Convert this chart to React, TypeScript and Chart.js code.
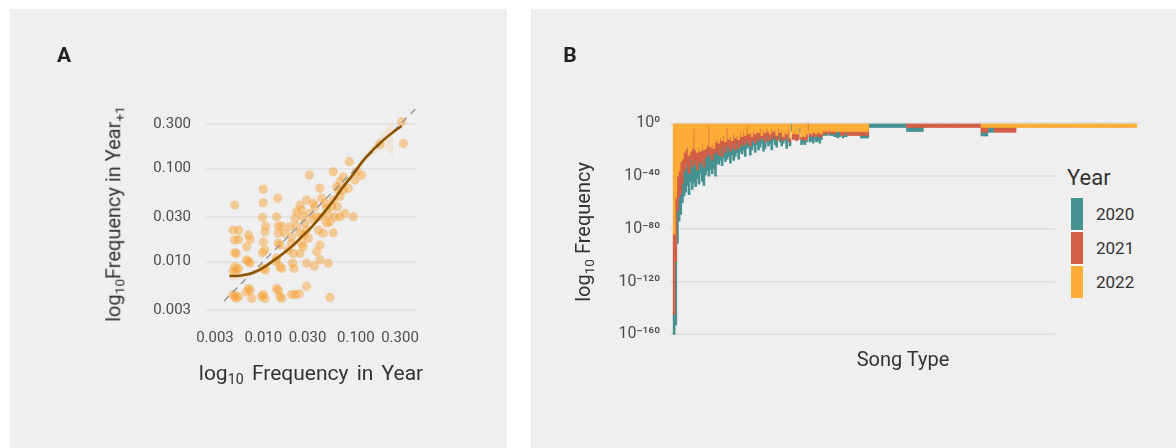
import React, { useEffect, useRef } from 'react';
import { Chart, registerables } from 'chart.js';

Chart.register(...registerables);
Chart.defaults.font.family = 'Roboto, "DejaVu Sans", sans-serif';

// ---------------- Panel A data ----------------
const freqInYear = [
  0.0049, 0.0047, 0.0054, 0.0049, 0.0054, 0.0049, 0.0051, 0.0049, 0.0051, 0.0047, 0.0054, 0.0049, 0.0051, 0.0054, 0.0047,
  0.0069, 0.0072, 0.0066, 0.0066, 0.0069, 0.0072, 0.0069, 0.0072, 0.0066, 0.0075,
  0.0100, 0.0100, 0.0098, 0.0106, 0.0104, 0.0100, 0.0098, 0.0104, 0.0100, 0.0106, 0.0100, 0.0104, 0.0096,
  0.0143, 0.0139, 0.0145, 0.0158, 0.0145, 0.0151, 0.0139, 0.0137, 0.0151, 0.0158, 0.0139, 0.0145, 0.0151, 0.0158,
  0.0194, 0.0202, 0.0202, 0.0211, 0.0207, 0.0214, 0.0220, 0.0229, 0.0202, 0.0220, 0.0245, 0.0294,
  0.0249, 0.0259, 0.0270, 0.0282, 0.0294, 0.0275, 0.0259, 0.0249, 0.0294,
  0.0314, 0.0294, 0.0347, 0.0361, 0.0319, 0.0377, 0.0393, 0.0409, 0.0377, 0.0356,
  0.0409, 0.0427, 0.0463, 0.0483, 0.0504, 0.0525, 0.0409, 0.0504, 0.0445, 0.0483, 0.0570, 0.0525,
  0.0570, 0.0619, 0.0646, 0.0673, 0.0731, 0.0570, 0.0630, 0.0673, 0.0594, 0.0762, 0.0938,
  0.0849, 0.0977, 0.116, 0.0828, 0.182, 0.313, 0.326,
  0.0145, 0.0171, 0.0229, 0.0249, 0.0186, 0.0270, 0.0306, 0.0347, 0.0427, 0.0547, 0.0673, 0.0731, 0.102,
];
const freqInNextYear = [
  0.0406, 0.0218, 0.0218, 0.0170, 0.0173, 0.0124, 0.0122, 0.0088, 0.0081, 0.0078, 0.0084, 0.0042, 0.0040, 0.0042, 0.0044,
  0.0193, 0.0173, 0.0144, 0.0104, 0.0100, 0.0096, 0.0051, 0.0049, 0.0047, 0.0040,
  0.0603, 0.0430, 0.0298, 0.0241, 0.0209, 0.0163, 0.0124, 0.0133, 0.0084, 0.0081, 0.0044, 0.0040, 0.0042,
  0.0479, 0.0303, 0.0241, 0.0241, 0.0157, 0.0150, 0.0108, 0.0100, 0.0088, 0.0084, 0.0051, 0.0049, 0.0042, 0.0040,
  0.0237, 0.0185, 0.0157, 0.0122, 0.0096, 0.0084, 0.0291, 0.0344, 0.0044, 0.0044, 0.0045, 0.0054,
  0.0406, 0.0358, 0.0303, 0.0258, 0.0218, 0.0193, 0.0157, 0.0122, 0.0096,
  0.0853, 0.0459, 0.0423, 0.0389, 0.0330, 0.0303, 0.0218, 0.0150, 0.0127, 0.0089,
  0.0614, 0.0479, 0.0423, 0.0373, 0.0316, 0.0268, 0.0104, 0.0096, 0.0201, 0.0258, 0.0204, 0.0041,
  0.0927, 0.0638, 0.0589, 0.0723, 0.0818, 0.0459, 0.0389, 0.0303, 0.0303, 0.0330, 0.0303,
  0.119, 0.0754, 0.0853, 0.0614, 0.183, 0.321, 0.187,
  0.0201, 0.0201, 0.0237, 0.0201, 0.0133, 0.0144, 0.0177, 0.0282, 0.0303, 0.0389, 0.0500, 0.0589, 0.0927,
];
const loessX = [0.0043, 0.0051, 0.0060, 0.0078, 0.0100, 0.0128, 0.0164, 0.0211, 0.0270, 0.0347, 0.0445, 0.0570, 0.0731, 0.0938, 0.120, 0.154, 0.198, 0.254, 0.313];
const loessY = [0.00697, 0.00697, 0.0071, 0.00757, 0.00857, 0.0102, 0.0122, 0.0150, 0.0191, 0.0247, 0.0330, 0.0452, 0.0638, 0.0870, 0.122, 0.160, 0.203, 0.248, 0.288];
const bandX = [0.0043, 0.0060, 0.0100, 0.0164, 0.0270, 0.0445, 0.0731, 0.120, 0.154, 0.198, 0.254];
const bandUpper = [0.00769, 0.00757, 0.00907, 0.01285, 0.0201, 0.0347, 0.0677, 0.1346, 0.1810, 0.245, 0.330];
const bandLower = [0.00621, 0.00653, 0.00801, 0.01154, 0.0182, 0.0314, 0.0603, 0.110, 0.141, 0.168, 0.1346];
const identityEnds = [0.00376, 0.45];
const freqTicks = [0.003, 0.01, 0.03, 0.1, 0.3];
const freqTickLabels = ['0.003', '0.010', '0.030', '0.100', '0.300'];

// ---------------- Panel B data (log10 frequency, stacked per song type) ----------------
const years = ['2020', '2021', '2022'];
const log10Freq2022 = [
  -84, -56, -40, -36, -29, -27, -22, -20, -18, -24,
  -21, -19, -4, -20, -22, -18, -21, -15, -20, -19,
  -17, -2, -18, -16, -19, -14, -12, -15, -11, -13,
  -9, -14, -3, -12, -10, -13, -8, -11, -9, -12,
  -7, -10, -6, -9, -2, -8, -7, -10, -5, -8,
  -6, -7, -4, -9, -5, -7, -3, -6, -8, -4,
  -6, -5, -9, -3, -7, -5, -10, -6, -8, -4,
  -11, 0, -8, -7, -8, -8, -3, -10, -9, -10,
  -8, 0, -7, -8, -6, -7, -8, -6, -7, -8,
  -5, -6, -5, -6, -4, -6, -5, -6, -6, -6,
  -6, -6, -6, -6, -6, -6, -6, -6, -6, -6,
  -6, -6, -6, -6, -6, -6, -6, -6,
  0, 0, 0, 0, 0, 0, 0, 0, 0, 0,
  0, 0, 0, 0, 0, 0, 0, 0, 0, 0,
  0, 0, 0, 0, 0, 0, 0, 0, 0, 0,
  0, 0, 0, 0, 0, 0, 0, 0, 0, 0,
  0, 0, 0, 0, 0, 0, 0, 0, 0, 0,
  0, 0, 0, 0, 0, 0, 0, 0, 0, 0,
  0, 0, 0, 0, 0, 0, 0, 0, -3, -3,
  -3, -3, -3, -3, -3, -3, -3, -3, -3, -3,
  -3, -3, -3, -3, -3, -3, -3, -3, -3, -3,
  -3, -3, -3, -3, -3, -3, -3, -3, -3, -3,
  -3, -3, -3, -3, -3, -3, -3, -3, -3, -3,
  -3, -3, -3, -3, -3, -3, -3, -3, -3, -3,
  -3, -3, -3, -3, -3, -3, -3, -3, -3, -3,
  -3, -3, -3, -3, -3, -3, -3, -3, -3, -3,
  -3, -3, -3, -3, -3, -3, -3, -3, -3, -3,
  -3, -3, -3, -3, -3, -3, -3, -3, -3, -3,
  -3, -3,
];
const log10Freq2021 = [
  -61, -48, -26, -20, -24, -18, -14, -14, -12, -14,
  -6, -14, -24, -11, -13, -11, -9, -12, -13, -7,
  -7, -20, -7, -12, -4, -8, -8, -9, -8, -12,
  -8, -8, -13, -6, -11, -6, -8, -9, -5, -7,
  -8, -7, -7, -7, -10, -6, -10, -3, -7, -7,
  -5, -6, -6, -3, -6, -7, -6, -7, -2, -8,
  -3, -6, -4, -5, -5, -5, -3, -5, -4, -5,
  -3, 0, -4, -5, -5, -4, 0, -2, -3, -3,
  -4, -6, -3, -1, -4, -3, -1, -4, -3, -2,
  -3, -2, -2, -2, -4, 0, -3, -2, 0, 0,
  0, -3, -3, -2, 0, -3, -3, -3, -3, -3,
  -3, -3, -3, -3, -3, -3, -3, -3,
  0, 0, 0, 0, 0, 0, 0, 0, 0, 0,
  0, 0, 0, 0, 0, 0, 0, 0, 0, 0,
  0, 0, 0, -3, -3, -3, -3, -3, -3, -3,
  -3, -3, -3, -3, -3, -3, -3, -3, -3, -3,
  -3, -3, -3, -3, -3, -3, -3, -3, -3, -3,
  -3, -3, -3, -3, -3, -3, -3, -3, -3, -3,
  -3, -3, -3, -3, -3, -3, -3, -3, -3.5, -3.5,
  -3.5, -3.5, 0, 0, 0, 0, -3.5, -3.5, -3.5, -3.5,
  -3.5, -3.5, -3.5, -3.5, -3.5, -3.5, -3.5, -3.5, -3.5, 0,
  0, 0, 0, 0, 0, 0, 0, 0, 0, 0,
  0, 0, 0, 0, 0, 0, 0, 0, 0, 0,
  0, 0, 0, 0, 0, 0, 0, 0, 0, 0,
  0, 0, 0, 0, 0, 0, 0, 0, 0, 0,
  0, 0, 0, 0, 0, 0, 0, 0, 0, 0,
  0, 0, 0, 0, 0, 0, 0, 0, 0, 0,
  0, 0, 0, 0, 0, 0, 0, 0, 0, 0,
  0, 0,
];
const log10Freq2020 = [
  -15, -49, -25, -18, -16, -15, -19, -18, -17, -16,
  -17, -17, -17, -17, -7, -17, -8, -17, -14, -13,
  -12, -18, -10, -10, -11, -18, -10, -7, -9, -7,
  -9, -7, -11, -7, -9, -5, -12, -5, -8, -8,
  -6, -6, -7, -9, -7, -4, -7, -7, -5, -7,
  -5, -7, -8, -3, -10, -5, -5, -4, -5, -8,
  -4, -5, -5, -4, -2, -7, -2, -2, -7, -5,
  -3, -6, 0, 0, 0, 0, -4, -4, -3, -3,
  -2, 0, -4, -4, -5, -2, -5, -3, -5, -2,
  -1, -1, -2, 0, -1, -3, -1, -2, -4, -5,
  -4, 0, -2, -2, -4, 0, 0, 0, 0, 0,
  0, 0, 0, -2, -2, -2, -2, -2,
  -3, -3, -3, -3, -3, -3, -3, -3, -3, -3,
  -3, -3, -3, -3, -3, -3, -3, -3, -3, -3,
  -3, -3, -3, -3, -3, -3, -3, -3, -3, -3,
  -3, -3, -3, 0, 0, 0, 0, 0, 0, 0,
  0, 0, 0, 0, 0, 0, 0, 0, 0, 0,
  0, 0, 0, 0, 0, 0, 0, 0, 0, 0,
  0, 0, 0, 0, 0, 0, 0, 0, -3, -3,
  -3, -3, -3.5, -3.5, -3.5, -3.5, 0, 0, 0, 0,
  0, 0, 0, 0, 0, 0, 0, 0, 0, 0,
  0, 0, 0, 0, 0, 0, 0, 0, 0, 0,
  0, 0, 0, 0, 0, 0, 0, 0, 0, 0,
  0, 0, 0, 0, 0, 0, 0, 0, 0, 0,
  0, 0, 0, 0, 0, 0, 0, 0, 0, 0,
  0, 0, 0, 0, 0, 0, 0, 0, 0, 0,
  0, 0, 0, 0, 0, 0, 0, 0, 0, 0,
  0, 0, 0, 0, 0, 0, 0, 0, 0, 0,
  0, 0,
];
const songTypes = log10Freq2020.map((_, i) => 'Song type ' + (i + 1));
const log10Ticks = [-160, -120, -80, -40, 0];
const log10TickLabels = ['10⁻¹⁶⁰', '10⁻¹²⁰', '10⁻⁸⁰', '10⁻⁴⁰', '10⁰'];
const yearColors = ['#459291', '#d25f46', '#fbad37'];

const PANEL_BG = '#efefef';
const GRID = '#e2e2e2';
const TEXT = '#333333';
const TICK = '#4d4d4d';

const sub = (t: string) => (
  <span style={{ fontSize: '0.68em', verticalAlign: '-0.28em' }}>{t}</span>
);

export default function App() {
  const refA = useRef<HTMLCanvasElement>(null);
  const refB = useRef<HTMLCanvasElement>(null);

  useEffect(() => {
    const pts = freqInYear.map((x, i) => ({ x, y: freqInNextYear[i] }));
    const chartA = new Chart(refA.current as HTMLCanvasElement, {
      type: 'line',
      data: {
        datasets: [
          {
            label: 'loess',
            data: loessX.map((x, i) => ({ x, y: loessY[i] })),
            borderColor: '#8a5300',
            borderWidth: 2.6,
            pointRadius: 0,
            cubicInterpolationMode: 'monotone',
            fill: false,
            order: 0,
          },
          {
            label: 'identity',
            data: identityEnds.map((v) => ({ x: v, y: v })),
            borderColor: '#9a9a9a',
            borderWidth: 1.5,
            borderDash: [7, 5],
            pointRadius: 0,
            fill: false,
            order: 1,
          },
          {
            label: 'songs',
            data: pts,
            showLine: false,
            pointRadius: 4.6,
            pointBackgroundColor: 'rgba(247,158,45,0.45)',
            pointBorderWidth: 0,
            pointBorderColor: 'rgba(0,0,0,0)',
            order: 2,
          },
          {
            label: 'band upper',
            data: bandX.map((x, i) => ({ x, y: bandUpper[i] })),
            borderWidth: 0,
            borderColor: 'rgba(0,0,0,0)',
            pointRadius: 0,
            cubicInterpolationMode: 'monotone',
            backgroundColor: 'rgba(245,190,120,0.22)',
            fill: '+1',
            order: 3,
          },
          {
            label: 'band lower',
            data: bandX.map((x, i) => ({ x, y: bandLower[i] })),
            borderWidth: 0,
            borderColor: 'rgba(0,0,0,0)',
            pointRadius: 0,
            cubicInterpolationMode: 'monotone',
            fill: false,
            order: 4,
          },
        ],
      },
      options: {
        responsive: false,
        animation: false,
        devicePixelRatio: 1,
        layout: { padding: { left: 136, right: 91, top: 99.3, bottom: 99 } },
        plugins: { legend: { display: false }, tooltip: { enabled: false } },
        scales: {
          x: {
            type: 'logarithmic',
            min: 0.0024,
            max: 0.447,
            grid: { display: false, drawTicks: false },
            border: { display: false },
            afterBuildTicks: (s: any) => {
              s.ticks = freqTicks.map((v) => ({ value: v }));
            },
            afterFit: (s: any) => {
              s.height = 30;
            },
            ticks: {
              autoSkip: false,
              maxRotation: 0,
              padding: 10,
              color: TICK,
              font: { size: 15 },
              callback: (_v: any, i: number) => freqTickLabels[i],
            },
          },
          y: {
            type: 'logarithmic',
            min: 0.0024,
            max: 0.447,
            grid: { color: GRID, lineWidth: 1.8, drawTicks: false },
            border: { display: false },
            afterBuildTicks: (s: any) => {
              s.ticks = freqTicks.map((v) => ({ value: v }));
            },
            afterFit: (s: any) => {
              s.width = 60;
            },
            ticks: {
              autoSkip: false,
              padding: 15,
              color: TICK,
              font: { size: 15 },
              callback: (_v: any, i: number) => freqTickLabels[i],
            },
          },
        },
      },
    } as any);

    const toBars = (arr: number[]) => [null, null, ...arr.map((v) => (v === 0 ? null : v)), null, null];
    const chartB = new Chart(refB.current as HTMLCanvasElement, {
      type: 'bar',
      data: {
        labels: ['pad a', 'pad b', ...songTypes, 'pad c', 'pad d'],
        datasets: [
          { label: years[2], data: toBars(log10Freq2022), backgroundColor: yearColors[2] },
          { label: years[1], data: toBars(log10Freq2021), backgroundColor: yearColors[1] },
          { label: years[0], data: toBars(log10Freq2020), backgroundColor: yearColors[0] },
        ],
      },
      options: {
        responsive: false,
        animation: false,
        devicePixelRatio: 1,
        layout: { padding: { left: 79, right: 36, top: 106.4, bottom: 103.1 } },
        datasets: { bar: { barPercentage: 1, categoryPercentage: 1, borderWidth: 0, inflateAmount: 0.5 } },
        plugins: { legend: { display: false }, tooltip: { enabled: false } },
        scales: {
          x: { stacked: true, display: false },
          y: {
            stacked: true,
            min: -168,
            max: 6,
            grid: { color: GRID, lineWidth: 2, drawTicks: false },
            border: { display: false },
            afterBuildTicks: (s: any) => {
              s.ticks = log10Ticks.map((v) => ({ value: v }));
            },
            afterFit: (s: any) => {
              s.width = 60;
            },
            ticks: {
              autoSkip: false,
              padding: 10,
              color: TICK,
              font: { size: 16 },
              callback: (_v: any, i: number) => log10TickLabels[i],
            },
          },
        },
      },
    } as any);

    return () => {
      chartA.destroy();
      chartB.destroy();
    };
  }, []);

  const abs: React.CSSProperties = { position: 'absolute', whiteSpace: 'nowrap', lineHeight: 1, color: TEXT };
  const centered = (cx: number, cy: number, size: number, rotate = false, extra: React.CSSProperties = {}): React.CSSProperties => ({
    ...abs,
    left: cx,
    top: cy,
    fontSize: size,
    transform: rotate ? 'translate(-50%,-50%) rotate(-90deg)' : 'translate(-50%,-50%)',
    ...extra,
  });

  return (
    <div
      style={{
        position: 'absolute',
        left: 0,
        top: 0,
        width: 1176,
        height: 448,
        background: '#ffffff',
        overflow: 'hidden',
        fontFamily: 'Roboto, "DejaVu Sans", sans-serif',
      }}
    >
      {/* Panel A */}
      <div style={{ position: 'absolute', left: 10, top: 9, width: 497, height: 439, background: PANEL_BG }}>
        <canvas ref={refA} width={497} height={439} style={{ position: 'absolute', left: 0, top: 0, width: 497, height: 439 }} />
        <div style={centered(54, 46, 21, false, { fontWeight: 700, color: '#222' })}>A</div>
        <div style={centered(105, 205, 20, true)}>
          log{sub('10')}Frequency in Year{sub('+1')}
        </div>
        <div style={centered(301, 366, 21, false, { wordSpacing: 3 })}>
          log{sub('10')} Frequency in Year
        </div>
      </div>

      {/* Panel B */}
      <div style={{ position: 'absolute', left: 531, top: 9, width: 645, height: 439, background: PANEL_BG }}>
        <canvas ref={refB} width={645} height={439} style={{ position: 'absolute', left: 0, top: 0, width: 645, height: 439 }} />
        <div style={centered(39, 46, 21, false, { fontWeight: 700, color: '#222' })}>B</div>
        <div style={centered(54, 223, 20, true)}>
          log{sub('10')} Frequency
        </div>
        <div style={centered(372, 350, 20)}>Song Type</div>

        {/* Legend */}
        <div style={{ position: 'absolute', left: 524, top: 131, width: 90, height: 207, background: PANEL_BG }} />
        <div style={{ ...abs, left: 536, top: 157.8, fontSize: 22 }}>Year</div>
        <div style={{ position: 'absolute', left: 540, top: 189, width: 12, height: 100, background: '#ffffff' }} />
        {years.map((yr, i) => (
          <React.Fragment key={yr}>
            <div style={{ position: 'absolute', left: 540, top: 189 + i * 34, width: 12, height: 32, background: yearColors[i] }} />
            <div style={{ ...abs, left: 565, top: 196.7 + i * 34, fontSize: 17 }}>{yr}</div>
          </React.Fragment>
        ))}
      </div>
    </div>
  );
}
